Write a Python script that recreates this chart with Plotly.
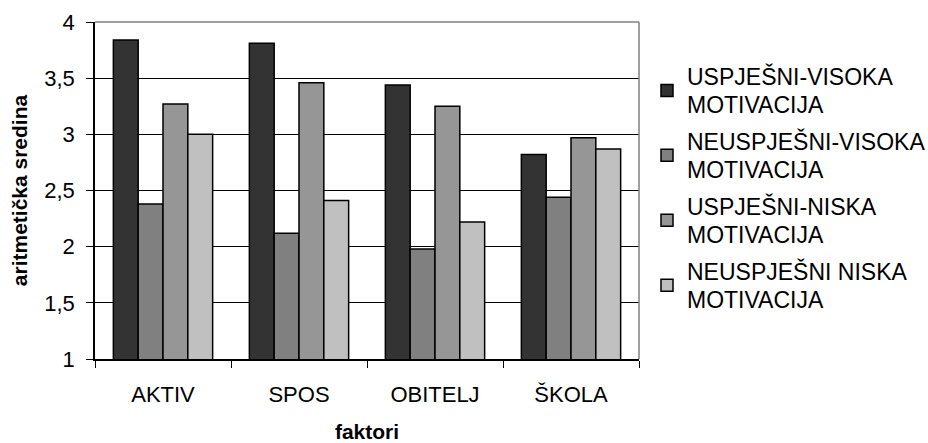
import plotly.graph_objects as go

categories = ["AKTIV", "SPOS", "OBITELJ", "ŠKOLA"]
series_names = [
    "USPJEŠNI-VISOKA<br>MOTIVACIJA",
    "NEUSPJEŠNI-VISOKA<br>MOTIVACIJA",
    "USPJEŠNI-NISKA<br>MOTIVACIJA",
    "NEUSPJEŠNI NISKA<br>MOTIVACIJA",
]
uspjesni_visoka = [3.84, 3.81, 3.44, 2.82]
neuspjesni_visoka = [2.38, 2.12, 1.98, 2.44]
uspjesni_niska = [3.27, 3.46, 3.25, 2.97]
neuspjesni_niska = [3.00, 2.41, 2.22, 2.87]
series_values = [uspjesni_visoka, neuspjesni_visoka, uspjesni_niska, neuspjesni_niska]
colors = ["#333333", "#808080", "#969696", "#c0c0c0"]
y_ticks = [1, 1.5, 2, 2.5, 3, 3.5, 4]

FONT = "Liberation Sans, Arial, sans-serif"

fig = go.Figure()
for i, (name, vals, col) in enumerate(zip(series_names, series_values, colors)):
    fig.add_trace(go.Bar(
        x=categories, y=vals, name="<span style='font-size:23px'>" + name + "</span>",
        marker=dict(color=col, line=dict(color="black", width=1.5)),
        legendgroup=str(i),
    ))

fig.update_layout(
    width=928, height=443,
    margin=dict(l=95, r=289, t=22, b=84),
    paper_bgcolor="white", plot_bgcolor="white",
    barmode="group", bargap=0.27, bargroupgap=0,
    separators=", ",
    font=dict(family=FONT, size=22, color="black"),
    legend=dict(
        xref="container", yref="container",
        x=647 / 928, xanchor="left", y=1 - 56 / 443, yanchor="top",
        font=dict(size=21.5, family=FONT), tracegroupgap=6,
        bgcolor="rgba(0,0,0,0)", maxheight=400,
    ),
    showlegend=True,
    xaxis=dict(
        automargin=False,
        showline=True, linecolor="black", linewidth=1.5,
        ticks="outside", ticklen=7, tickcolor="black", tickson="boundaries",
        tickfont=dict(size=22), ticklabelstandoff=15,
        title=dict(text="<b>faktori</b>", font=dict(size=21), standoff=21),
    ),
    yaxis=dict(
        automargin=False,
        range=[1, 4], tickvals=y_ticks,
        showline=True, linecolor="black", linewidth=1.5,
        ticks="outside", ticklen=7, tickcolor="black",
        showgrid=True, gridcolor="black", gridwidth=1,
        tickfont=dict(size=22), ticklabelstandoff=7,
        title=dict(text="<b>aritmetička sredina</b>", font=dict(size=21), standoff=11),
        zeroline=False,
    ),
    shapes=[
        dict(type="line", xref="paper", yref="paper", x0=0, x1=1, y0=1, y1=1,
             line=dict(color="#808080", width=1.5), layer="above"),
        dict(type="line", xref="paper", yref="paper", x0=1, x1=1, y0=0, y1=1,
             line=dict(color="#808080", width=1.5), layer="above"),
    ],
)

fig.write_html("out.html", config={"displayModeBar": False},
               post_script="document.body.style.margin='0';")
